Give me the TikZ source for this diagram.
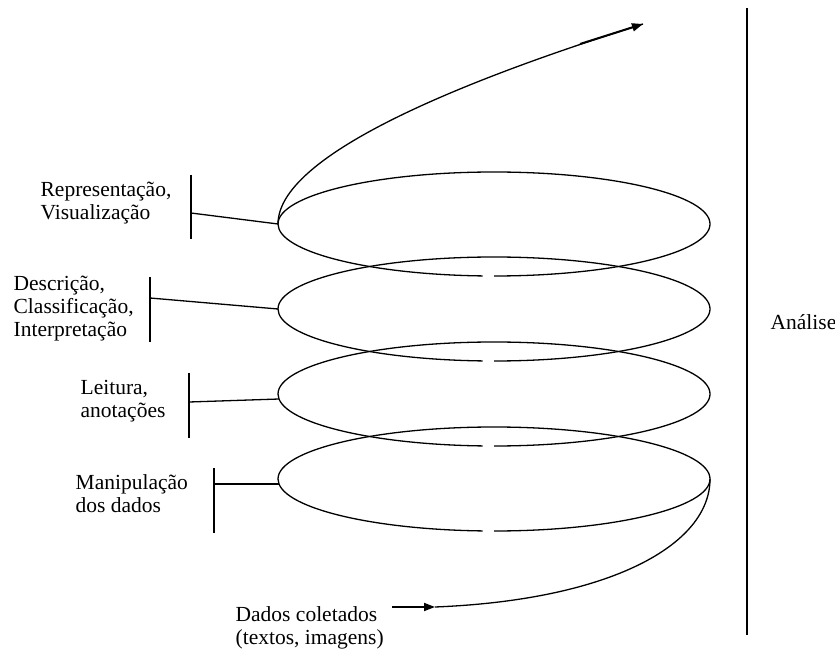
\documentclass[tikz,border=0pt]{standalone}
\usepackage{fontspec}
\setmainfont{Liberation Serif}
\usetikzlibrary{arrows.meta}
\begin{document}
\begin{tikzpicture}[x=1pt, y=1pt, line width=1.3pt,
	lbl/.style={align=left, inner sep=0pt, font=\rmfamily\fontsize{21.5}{23}\selectfont},
	tip/.style={-{Triangle[length=11pt, width=8pt]}}]
	\useasboundingbox (0,0) rectangle (835,654);

	% rings of the spiral
	\coordinate (c1) at (494,430);
	\coordinate (c2) at (494,345);
	\coordinate (c3) at (494,260);
	\coordinate (c4) at (494,175);
	\foreach \c in {c1,c2,c3,c4}
		\draw (\c) ++(270:216 and 52) arc[start angle=270, end angle=627, x radius=216, y radius=52];

	\coordinate (l1) at (278,430);
	\coordinate (l2) at (278,345);
	\coordinate (l3) at (279,255);
	\coordinate (l4) at (279,170);
	\coordinate (r4) at (710,175);

	% labels
	\node[lbl, anchor=west] (rep) at (40,451) {Representação,\\Visualização};
	\node[lbl, anchor=west] (desc) at (13,345) {Descrição,\\Classificação,\\Interpretação};
	\node[lbl, anchor=west] (leit) at (80,253) {Leitura,\\anotações};
	\node[lbl, anchor=west] (manip) at (75,160) {Manipulação\\dos dados};
	\node[lbl, anchor=west] (dados) at (235,26) {Dados coletados\\(textos, imagens)};
	\node[lbl, anchor=west] (analise) at (770,332) {Análise};

	% brackets
	\draw (191,479) -- (191,415);
	\draw (150,377) -- (150,312);
	\draw (189,281) -- (189,216);
	\draw (214,186) -- (214,121);
	\coordinate (b1) at (191,441);
	\coordinate (b2) at (150,356);
	\coordinate (b3) at (189,252);
	\coordinate (b4) at (214,170);
	\draw (b1) -- (l1);
	\draw (b2) -- (l2);
	\draw (b3) -- (l3);
	\draw (b4) -- (l4);

	\draw (747,646) -- (747,19);

	% ends of the spiral
	\coordinate (top) at (643,630);
	\coordinate (topin) at (580,610);
	\coordinate (in) at (392,47);
	\coordinate (s0) at (435,47);
	\draw (l1) .. controls (278,504) and (490,582) .. (top);
	\draw[tip, line width=2pt] (topin) -- (top);
	\draw[tip, line width=1.8pt] (in) -- (s0);
	\draw (s0) .. controls (610,54) and (710,109) .. (r4);
\end{tikzpicture}
\end{document}
